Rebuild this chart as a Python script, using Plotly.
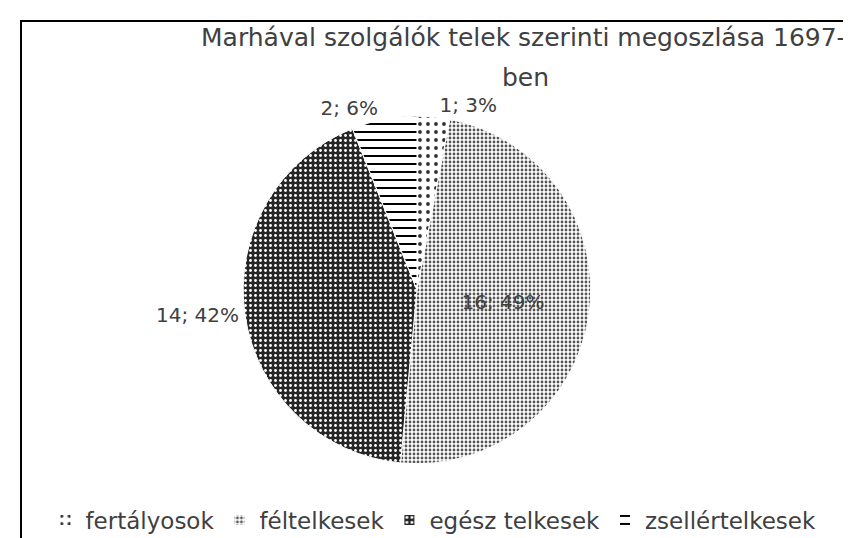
import plotly.graph_objects as go

categories = ["fertályosok", "féltelkesek", "egész telkesek", "zsellértelkesek"]
values = [1, 16, 14, 2]
pct_labels = ["3%", "49%", "42%", "6%"]
title_lines = ["Marhával szolgálók telek szerinti megoszlása 1697-", "ben"]

shapes_pat = [".", ".", ".", "-"]
pat_size = [8, 4, 5, 8]
pat_sol = [0.18, 0.4, 0.25, 0.25]
pat_fg = ["#333333", "#555555", "#ffffff", "#000000"]
pat_bg = ["#ffffff", "#ffffff", "#262626", "#ffffff"]
textpos = ["outside", "inside", "outside", "outside"]

FONT = "DejaVu Sans, Open Sans, sans-serif"

fig = go.Figure(go.Pie(
    labels=categories,
    values=values,
    customdata=pct_labels,
    sort=False,
    direction="clockwise",
    rotation=0,
    texttemplate="%{value}; %{customdata}",
    textposition=textpos,
    textfont=dict(family=FONT, size=20, color="#404040"),
    insidetextorientation="horizontal",
    marker=dict(
        pattern=dict(shape=shapes_pat, size=pat_size, solidity=pat_sol,
                     fgcolor=pat_fg, bgcolor=pat_bg, fillmode="replace"),
        line=dict(color="white", width=1),
    ),
    domain=dict(x=[0.2760, 0.6852], y=[0.153, 0.799]),
    showlegend=True,
))

fig.update_layout(
    width=851, height=538,
    margin=dict(l=0, r=0, t=0, b=0),
    paper_bgcolor="white",
    plot_bgcolor="white",
    annotations=[
        dict(text=title_lines[0], xref="paper", yref="paper", x=515/851, y=1-30/538,
             xanchor="center", yanchor="middle", showarrow=False,
             font=dict(family=FONT, size=25, color="#404040")),
        dict(text=title_lines[1], xref="paper", yref="paper", x=517/851, y=1-70/538,
             xanchor="center", yanchor="middle", showarrow=False,
             font=dict(family=FONT, size=25, color="#404040")),
    ],
    legend=dict(orientation="h", x=0.5, xanchor="center", y=1-512/538, yanchor="middle",
                font=dict(family=FONT, size=23, color="#404040"),
                traceorder="normal", itemsizing="constant", itemwidth=30),
    shapes=[dict(type="rect", xref="paper", yref="paper",
                 x0=13/851, x1=845/851, y0=-0.05, y1=1-13/538,
                 line=dict(color="black", width=2), fillcolor="rgba(0,0,0,0)")],
)

fig.write_html("out.html")
